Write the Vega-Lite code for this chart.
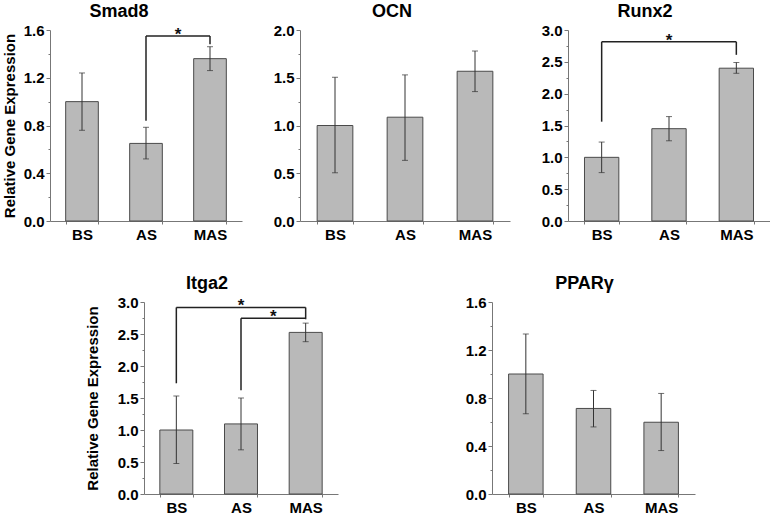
{
  "$schema": "https://vega.github.io/schema/vega-lite/v6.json",
  "padding": {"left": 2, "top": 3, "right": 0, "bottom": 0},
  "background": "white",
  "config": {
    "view": {"stroke": null},
    "font": "Liberation Sans",
    "axis": {"labelFont": "Liberation Sans", "labelFontWeight": "bold", "labelFontSize": 15, "labelColor": "#000", "domainColor": "#777", "tickColor": "#777", "grid": false, "titleFont": "Liberation Sans", "titleFontWeight": "bold", "titleFontSize": 15, "titleColor": "#000", "labelOverlap": false},
    "axisX": {"labelAngle": 0, "tickBand": "extent", "tickSize": 3, "labelPadding": 3},
    "axisY": {"tickSize": 4, "labelPadding": 2, "format": ".1f", "labelOverlap": false, "tickCount": 20},
    "title": {"font": "Liberation Sans", "fontSize": 18, "fontWeight": "bold", "anchor": "middle", "baseline": "alphabetic", "color": "#000"},
    "bar": {"fill": "#b9b9b9", "stroke": "#4a4a4a", "strokeWidth": 1},
    "rule": {"color": "#333"},
    "tick": {"color": "#333", "thickness": 1}
  },
  "vconcat": [
    {
      "hconcat": [
        {
          "width": 192, "height": 191,
          "title": {"text": "Smad8", "dx": -27, "offset": 2},
          "data": {"values": [
            {"group": "BS", "mean": 1.0, "lo": 0.76, "hi": 1.24},
            {"group": "AS", "mean": 0.65, "lo": 0.52, "hi": 0.785},
            {"group": "MAS", "mean": 1.36, "lo": 1.26, "hi": 1.46}
          ]},
          "resolve": {"axis": {"y": "independent"}},
          "layer": [
            {"mark": "bar", "encoding": {
              "x": {"field": "group", "type": "nominal", "scale": {"domain": ["BS", "AS", "MAS"], "paddingInner": 0.49, "paddingOuter": 0.245}, "axis": {"title": null}},
              "y": {"field": "mean", "type": "quantitative", "scale": {"domain": [0, 1.6]}, "axis": {"title": "Relative Gene Expression", "values": [0, 0.4, 0.8, 1.2, 1.6], "titlePadding": 6}}}},
            {"mark": "rule", "encoding": {"x": {"field": "group", "type": "nominal"}, "y": {"field": "lo", "type": "quantitative", "axis": {"orient": "left", "values": [0.2, 0.6, 1.0, 1.4], "labels": false, "domain": false, "tickSize": 2, "title": null}}, "y2": {"field": "hi"}}},
            {"mark": {"type": "tick", "size": 6}, "encoding": {"x": {"field": "group", "type": "nominal"}, "y": {"field": "lo", "type": "quantitative", "axis": null}}},
            {"mark": {"type": "tick", "size": 6}, "encoding": {"x": {"field": "group", "type": "nominal"}, "y": {"field": "hi", "type": "quantitative", "axis": null}}},
            {"data": {"values": [
              {"from": "AS", "to": "MAS", "y1": 1.55, "y2": 1.55},
              {"from": "AS", "to": "AS", "y1": 0.84, "y2": 1.55},
              {"from": "MAS", "to": "MAS", "y1": 1.48, "y2": 1.55}
            ]}, "mark": {"type": "rule", "color": "#222", "strokeWidth": 1.5}, "encoding": {"x": {"field": "from", "type": "nominal"}, "x2": {"field": "to"}, "y": {"field": "y1", "type": "quantitative", "axis": null}, "y2": {"field": "y2"}}},
            {"data": {"values": [{"comparison": "AS vs MAS", "anchor": "AS", "y": 1.55}]},
             "mark": {"type": "text", "text": "*", "fontSize": 17, "fontWeight": "bold", "baseline": "alphabetic", "dy": 4, "color": "#111"},
             "encoding": {"x": {"field": "anchor", "type": "nominal", "bandPosition": 1.48}, "y": {"field": "y", "type": "quantitative", "axis": null}}}
          ]
        },
        {
          "width": 210, "height": 191,
          "title": {"text": "OCN", "dx": -13, "offset": 2},
          "data": {"values": [
            {"group": "BS", "mean": 1.0, "lo": 0.505, "hi": 1.505},
            {"group": "AS", "mean": 1.087, "lo": 0.635, "hi": 1.53},
            {"group": "MAS", "mean": 1.568, "lo": 1.355, "hi": 1.78}
          ]},
          "resolve": {"axis": {"y": "independent"}},
          "layer": [
            {"mark": "bar", "encoding": {
              "x": {"field": "group", "type": "nominal", "scale": {"domain": ["BS", "AS", "MAS"], "paddingInner": 0.49, "paddingOuter": 0.245}, "axis": {"title": null}},
              "y": {"field": "mean", "type": "quantitative", "scale": {"domain": [0, 2]}, "axis": {"title": null, "values": [0, 0.5, 1, 1.5, 2]}}}},
            {"mark": "rule", "encoding": {"x": {"field": "group", "type": "nominal"}, "y": {"field": "lo", "type": "quantitative", "axis": {"orient": "left", "values": [0.25, 0.75, 1.25, 1.75], "labels": false, "domain": false, "tickSize": 2, "title": null}}, "y2": {"field": "hi"}}},
            {"mark": {"type": "tick", "size": 6}, "encoding": {"x": {"field": "group", "type": "nominal"}, "y": {"field": "lo", "type": "quantitative", "axis": null}}},
            {"mark": {"type": "tick", "size": 6}, "encoding": {"x": {"field": "group", "type": "nominal"}, "y": {"field": "hi", "type": "quantitative", "axis": null}}}
          ]
        },
        {
          "width": 202, "height": 191,
          "title": {"text": "Runx2", "dx": -24, "offset": 2},
          "data": {"values": [
            {"group": "BS", "mean": 1.0, "lo": 0.76, "hi": 1.24},
            {"group": "AS", "mean": 1.45, "lo": 1.26, "hi": 1.64},
            {"group": "MAS", "mean": 2.4, "lo": 2.32, "hi": 2.49}
          ]},
          "resolve": {"axis": {"y": "independent"}},
          "layer": [
            {"mark": "bar", "encoding": {
              "x": {"field": "group", "type": "nominal", "scale": {"domain": ["BS", "AS", "MAS"], "paddingInner": 0.49, "paddingOuter": 0.245}, "axis": {"title": null}},
              "y": {"field": "mean", "type": "quantitative", "scale": {"domain": [0, 3]}, "axis": {"title": null, "values": [0, 0.5, 1, 1.5, 2, 2.5, 3]}}}},
            {"mark": "rule", "encoding": {"x": {"field": "group", "type": "nominal"}, "y": {"field": "lo", "type": "quantitative", "axis": {"orient": "left", "values": [0.25, 0.75, 1.25, 1.75, 2.25, 2.75], "labels": false, "domain": false, "tickSize": 2, "title": null}}, "y2": {"field": "hi"}}},
            {"mark": {"type": "tick", "size": 6}, "encoding": {"x": {"field": "group", "type": "nominal"}, "y": {"field": "lo", "type": "quantitative", "axis": null}}},
            {"mark": {"type": "tick", "size": 6}, "encoding": {"x": {"field": "group", "type": "nominal"}, "y": {"field": "hi", "type": "quantitative", "axis": null}}},
            {"data": {"values": [
              {"from": "BS", "to": "MAS", "y1": 2.815, "y2": 2.815},
              {"from": "BS", "to": "BS", "y1": 1.56, "y2": 2.815},
              {"from": "MAS", "to": "MAS", "y1": 2.61, "y2": 2.815}
            ]}, "mark": {"type": "rule", "color": "#222", "strokeWidth": 1.5}, "encoding": {"x": {"field": "from", "type": "nominal"}, "x2": {"field": "to"}, "y": {"field": "y1", "type": "quantitative", "axis": null}, "y2": {"field": "y2"}}},
            {"data": {"values": [{"comparison": "BS vs MAS", "anchor": "AS", "y": 2.815}]},
             "mark": {"type": "text", "text": "*", "fontSize": 17, "fontWeight": "bold", "baseline": "alphabetic", "dy": 4, "color": "#111"},
             "encoding": {"x": {"field": "anchor", "type": "nominal"}, "y": {"field": "y", "type": "quantitative", "axis": null}}}
          ]
        }
      ],
      "spacing": 31
    },
    {
      "hconcat": [
        {"width": 35, "height": 10, "data": {"values": []}, "mark": {"type": "point", "opacity": 0}, "encoding": {}},
        {
          "hconcat": [
            {
              "width": 194, "height": 192,
              "title": {"text": "Itga2", "dx": -34, "offset": 2},
              "data": {"values": [
                {"group": "BS", "mean": 1.0, "lo": 0.475, "hi": 1.53},
                {"group": "AS", "mean": 1.095, "lo": 0.69, "hi": 1.5},
                {"group": "MAS", "mean": 2.525, "lo": 2.38, "hi": 2.67}
              ]},
              "resolve": {"axis": {"y": "independent"}},
              "layer": [
                {"mark": "bar", "encoding": {
                  "x": {"field": "group", "type": "nominal", "scale": {"domain": ["BS", "AS", "MAS"], "paddingInner": 0.49, "paddingOuter": 0.245}, "axis": {"title": null}},
                  "y": {"field": "mean", "type": "quantitative", "scale": {"domain": [0, 3]}, "axis": {"title": "Relative Gene Expression", "values": [0, 0.5, 1, 1.5, 2, 2.5, 3], "titlePadding": 17}}}},
                {"mark": "rule", "encoding": {"x": {"field": "group", "type": "nominal"}, "y": {"field": "lo", "type": "quantitative", "axis": {"orient": "left", "values": [0.25, 0.75, 1.25, 1.75, 2.25, 2.75], "labels": false, "domain": false, "tickSize": 2, "title": null}}, "y2": {"field": "hi"}}},
                {"mark": {"type": "tick", "size": 6}, "encoding": {"x": {"field": "group", "type": "nominal"}, "y": {"field": "lo", "type": "quantitative", "axis": null}}},
                {"mark": {"type": "tick", "size": 6}, "encoding": {"x": {"field": "group", "type": "nominal"}, "y": {"field": "hi", "type": "quantitative", "axis": null}}},
                {"data": {"values": [
                  {"from": "BS", "to": "MAS", "y1": 2.915, "y2": 2.915},
                  {"from": "BS", "to": "BS", "y1": 1.73, "y2": 2.915},
                  {"from": "AS", "to": "MAS", "y1": 2.745, "y2": 2.745},
                  {"from": "AS", "to": "AS", "y1": 1.62, "y2": 2.745},
                  {"from": "MAS", "to": "MAS", "y1": 2.73, "y2": 2.915}
                ]}, "mark": {"type": "rule", "color": "#222", "strokeWidth": 1.5}, "encoding": {"x": {"field": "from", "type": "nominal"}, "x2": {"field": "to"}, "y": {"field": "y1", "type": "quantitative", "axis": null}, "y2": {"field": "y2"}}},
                {"data": {"values": [{"comparison": "BS vs MAS", "anchor": "AS", "y": 2.915}, {"comparison": "AS vs MAS", "anchor": "AS", "y": 2.745}]},
                 "transform": [{"filter": "datum.comparison == 'BS vs MAS'"}],
                 "mark": {"type": "text", "text": "*", "fontSize": 17, "fontWeight": "bold", "baseline": "alphabetic", "dy": 4, "color": "#111"},
                 "encoding": {"x": {"field": "anchor", "type": "nominal"}, "y": {"field": "y", "type": "quantitative", "axis": null}}},
                {"data": {"values": [{"comparison": "BS vs MAS", "anchor": "AS", "y": 2.915}, {"comparison": "AS vs MAS", "anchor": "AS", "y": 2.745}]},
                 "transform": [{"filter": "datum.comparison == 'AS vs MAS'"}],
                 "mark": {"type": "text", "text": "*", "fontSize": 17, "fontWeight": "bold", "baseline": "alphabetic", "dy": 4, "color": "#111"},
                 "encoding": {"x": {"field": "anchor", "type": "nominal", "bandPosition": 1.48}, "y": {"field": "y", "type": "quantitative", "axis": null}}}
              ]
            },
            {
              "width": 203, "height": 192,
              "title": {"text": "PPARγ", "dx": -9, "offset": 2},
              "data": {"values": [
                {"group": "BS", "mean": 1.0, "lo": 0.668, "hi": 1.333},
                {"group": "AS", "mean": 0.713, "lo": 0.559, "hi": 0.863},
                {"group": "MAS", "mean": 0.598, "lo": 0.362, "hi": 0.838}
              ]},
              "resolve": {"axis": {"y": "independent"}},
              "layer": [
                {"mark": "bar", "encoding": {
                  "x": {"field": "group", "type": "nominal", "scale": {"domain": ["BS", "AS", "MAS"], "paddingInner": 0.49, "paddingOuter": 0.245}, "axis": {"title": null}},
                  "y": {"field": "mean", "type": "quantitative", "scale": {"domain": [0, 1.6]}, "axis": {"title": null, "values": [0, 0.4, 0.8, 1.2, 1.6]}}}},
                {"mark": "rule", "encoding": {"x": {"field": "group", "type": "nominal"}, "y": {"field": "lo", "type": "quantitative", "axis": {"orient": "left", "values": [0.2, 0.6, 1.0, 1.4], "labels": false, "domain": false, "tickSize": 2, "title": null}}, "y2": {"field": "hi"}}},
                {"mark": {"type": "tick", "size": 6}, "encoding": {"x": {"field": "group", "type": "nominal"}, "y": {"field": "lo", "type": "quantitative", "axis": null}}},
                {"mark": {"type": "tick", "size": 6}, "encoding": {"x": {"field": "group", "type": "nominal"}, "y": {"field": "hi", "type": "quantitative", "axis": null}}}
              ]
            }
          ],
          "spacing": 127
        }
      ],
      "spacing": 0
    }
  ],
  "spacing": 33
}
